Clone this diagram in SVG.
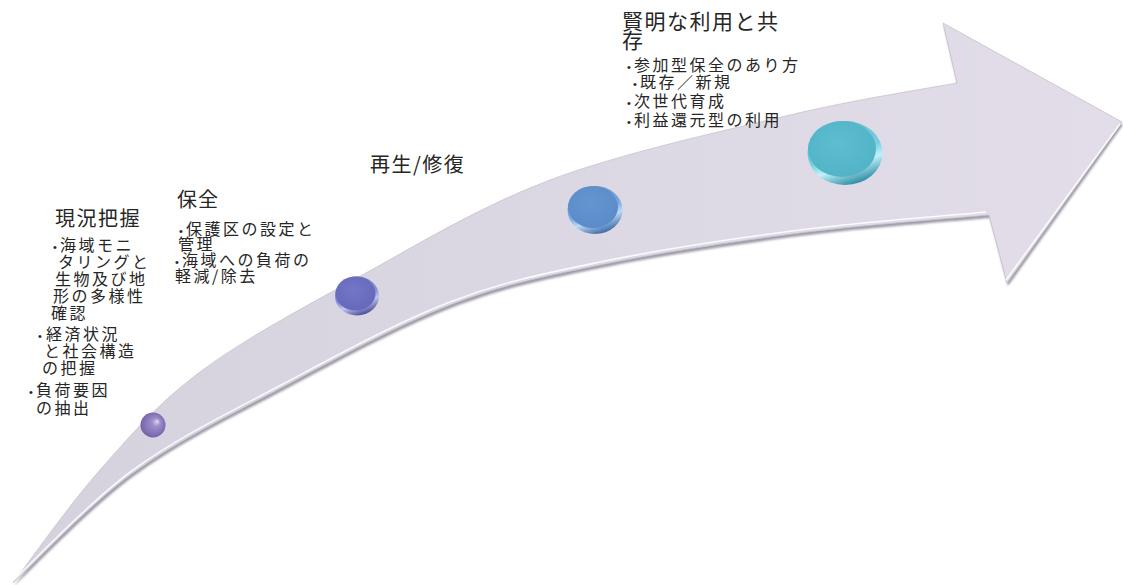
<svg xmlns="http://www.w3.org/2000/svg" width="1123" height="585" viewBox="0 0 1123 585">
<style>
  .t { font-family: "Noto Sans CJK JP", "Noto Sans", sans-serif; fill: #262626; }
  .h { font-size: 20px; letter-spacing: 1.5px; }
  .b { font-size: 16px; letter-spacing: 2.5px; }
  .dot { font-family: "Liberation Sans", sans-serif; font-size: 11px; letter-spacing: 0; }
</style>
<defs>
  <linearGradient id="arrowFill" x1="0" y1="0" x2="1" y2="0">
    <stop offset="0" stop-color="#d5d1dd"/>
    <stop offset="0.5" stop-color="#dcd8e3"/>
    <stop offset="1" stop-color="#e2dde8"/>
  </linearGradient>
  <filter id="soft" x="-5%" y="-5%" width="110%" height="110%">
    <feGaussianBlur stdDeviation="1.2"/>
  </filter>
  <radialGradient id="sphere1" cx="0.5" cy="0.5" r="0.55" fx="0.68" fy="0.35">
    <stop offset="0" stop-color="#e0d8f4"/>
    <stop offset="0.3" stop-color="#9d8dcb"/>
    <stop offset="0.8" stop-color="#7f6db2"/>
    <stop offset="1" stop-color="#6a5a9c"/>
  </radialGradient>
  <linearGradient id="rim2" x1="0.2" y1="0" x2="0.6" y2="1">
    <stop offset="0" stop-color="#6d70c0"/>
    <stop offset="0.55" stop-color="#8d90d8"/>
    <stop offset="0.72" stop-color="#c2c4f2"/>
    <stop offset="1" stop-color="#4a4c98"/>
  </linearGradient>
  <radialGradient id="face2" cx="0.45" cy="0.4" r="0.65">
    <stop offset="0" stop-color="#7376c6"/>
    <stop offset="1" stop-color="#6568b9"/>
  </radialGradient>
  <linearGradient id="rim3" x1="0.2" y1="0" x2="0.6" y2="1">
    <stop offset="0" stop-color="#5e8fcc"/>
    <stop offset="0.55" stop-color="#7eaae0"/>
    <stop offset="0.72" stop-color="#bcdaf6"/>
    <stop offset="1" stop-color="#3c69a6"/>
  </linearGradient>
  <radialGradient id="face3" cx="0.45" cy="0.4" r="0.65">
    <stop offset="0" stop-color="#6595d1"/>
    <stop offset="1" stop-color="#5a8ac8"/>
  </radialGradient>
  <linearGradient id="rim4" x1="0.2" y1="0" x2="0.6" y2="1">
    <stop offset="0" stop-color="#55b6ca"/>
    <stop offset="0.55" stop-color="#78d0e0"/>
    <stop offset="0.72" stop-color="#c0f2f9"/>
    <stop offset="1" stop-color="#2e8ca4"/>
  </linearGradient>
  <radialGradient id="face4" cx="0.45" cy="0.4" r="0.65">
    <stop offset="0" stop-color="#5dbed0"/>
    <stop offset="1" stop-color="#52b2c6"/>
  </radialGradient>
  <path id="arrowShape" d="M13,583 C27.5,564.2 68.8,505.2 100,470 C131.2,434.8 157.2,404 200,372 C242.8,340 298.7,310 357,278 C415.3,246 477.8,207.2 550,180 C622.2,152.8 722.2,131.2 790,115 C857.8,98.8 929.2,88.3 957,83 L943,23 L1122,122 L1007,283 L989,215 C957.5,218 864.8,224.7 800,233 C735.2,241.3 658.3,253 600,265 C541.7,277 502.8,284.7 450,305 C397.2,325.3 335.8,359 283,387 C230.2,415 178,440.3 133,473 C88,505.7 33,564.7 13,583 Z"/>
</defs>

<rect x="0" y="0" width="1123" height="585" fill="#ffffff"/>

<g id="arrow">
  <use href="#arrowShape" transform="translate(1,3)" fill="#9e9ba7" filter="url(#soft)"/>
  <use href="#arrowShape" fill="url(#arrowFill)" stroke="#c6c2cd" stroke-width="0.8"/>
  <path d="M1120,124 L1006,280 M986,212 C957.5,215 864.8,221.7 800,230 C735.2,238.3 658.3,250 600,262 C541.7,274 502.8,281.7 450,302 C397.2,322.3 335.8,356 283,384 C230.2,412 178,437.3 133,470 C88,502.7 33,561.7 15,579" fill="none" stroke="#ffffff" stroke-width="1.6" stroke-opacity="0.85"/>
</g>

<g id="connectors"></g>

<g id="disc1">
  <circle cx="153" cy="425" r="12.5" fill="url(#sphere1)"/>
</g>
<g id="disc2">
  <ellipse cx="357" cy="296" rx="22" ry="19.5" fill="url(#rim2)"/>
  <ellipse cx="355.5" cy="293.5" rx="20" ry="17" fill="url(#face2)"/>
</g>
<g id="disc3">
  <ellipse cx="595" cy="210" rx="27.5" ry="24" fill="url(#rim3)"/>
  <ellipse cx="593" cy="207" rx="25" ry="21" fill="url(#face3)"/>
</g>
<g id="disc4">
  <ellipse cx="845" cy="153" rx="37.5" ry="32" fill="url(#rim4)"/>
  <ellipse cx="842" cy="149" rx="34" ry="28" fill="url(#face4)"/>
</g>

<g id="stage1" class="t">
  <text class="h" x="55" y="226">現況把握</text>
  <text class="b" x="53" y="251"><tspan class="dot">•</tspan><tspan x="60">海域モニ</tspan></text>
  <text class="b" x="58" y="268">タリングと</text>
  <text class="b" x="55" y="285">生物及び地</text>
  <text class="b" x="53" y="302">形の多様性</text>
  <text class="b" x="51" y="319">確認</text>
  <text class="b" x="38" y="340"><tspan class="dot">•</tspan><tspan x="46">経済状況</tspan></text>
  <text class="b" x="44" y="357">と社会構造</text>
  <text class="b" x="42" y="374">の把握</text>
  <text class="b" x="29" y="396"><tspan class="dot">•</tspan><tspan x="36">負荷要因</tspan></text>
  <text class="b" x="36" y="414">の抽出</text>
</g>

<g id="stage2" class="t">
  <text class="h" x="177" y="207" style="letter-spacing:1px">保全</text>
  <text class="b" x="179" y="235"><tspan class="dot">•</tspan><tspan x="186">保護区の設定と</tspan></text>
  <text class="b" x="178" y="250">管理</text>
  <text class="b" x="175" y="266"><tspan class="dot">•</tspan><tspan x="182">海域への負荷の</tspan></text>
  <text class="b" x="175" y="282">軽減/除去</text>
</g>

<g id="stage3" class="t">
  <text class="h" x="370" y="172">再生/修復</text>
</g>

<g id="stage4" class="t">
  <text class="h" x="622" y="29" style="font-size:21px">賢明な利用と共</text>
  <text class="h" x="622" y="48" style="font-size:21px">存</text>
  <text class="b" x="627" y="71"><tspan class="dot">•</tspan><tspan x="634">参加型保全のあり方</tspan></text>
  <text class="b" x="633" y="88"><tspan class="dot">•</tspan><tspan x="640">既存／新規</tspan></text>
  <text class="b" x="627" y="107"><tspan class="dot">•</tspan><tspan x="634">次世代育成</tspan></text>
  <text class="b" x="627" y="126"><tspan class="dot">•</tspan><tspan x="634">利益還元型の利用</tspan></text>
</g>
</svg>
